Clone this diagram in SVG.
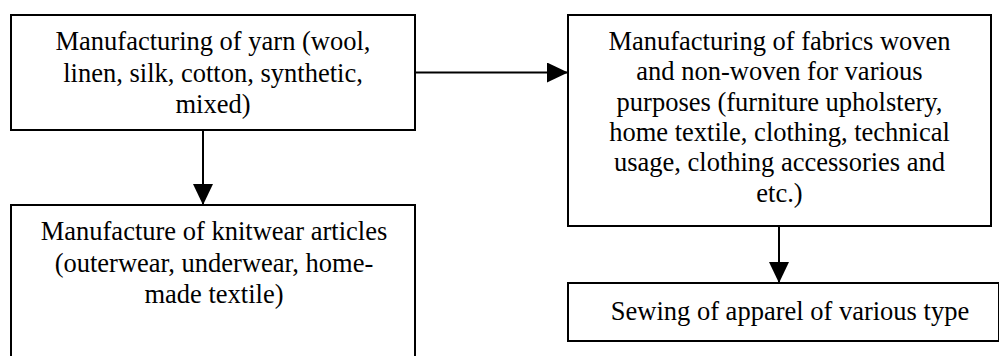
<svg xmlns="http://www.w3.org/2000/svg" width="999" height="356" viewBox="0 0 999 356">
<style>
.box{fill:#fff;stroke:#000;stroke-width:2}
.t{font-family:"Liberation Serif","Times New Roman",serif;font-size:26.5px;fill:#000;text-anchor:middle}
.c{stroke:#000;stroke-width:2;fill:none;marker-end:url(#ah)}
</style>
<defs>
<marker id="ah" markerUnits="userSpaceOnUse" markerWidth="21" markerHeight="20" refX="21" refY="10" orient="auto">
<path d="M0,0 L21,10 L0,20 Z" fill="#000"/>
</marker>
</defs>
<rect width="999" height="356" fill="#fff"/>
<g id="yarn">
<rect class="box" x="11" y="15" width="404" height="115"/>
<text class="t" x="213" y="50">Manufacturing of yarn (wool,</text>
<text class="t" x="213" y="81.5">linen, silk, cotton, synthetic,</text>
<text class="t" x="213" y="113">mixed)</text>
</g>
<g id="fabrics">
<rect class="box" x="568" y="15" width="423" height="211"/>
<text class="t" x="779.5" y="50">Manufacturing of fabrics woven</text>
<text class="t" x="779.5" y="80.3">and non-woven for various</text>
<text class="t" x="779.5" y="110.6">purposes (furniture upholstery,</text>
<text class="t" x="779.5" y="140.9">home textile, clothing, technical</text>
<text class="t" x="779.5" y="171.2">usage, clothing accessories and</text>
<text class="t" x="779.5" y="201.5">etc.)</text>
</g>
<g id="knitwear">
<rect class="box" x="11" y="205" width="404" height="200"/>
<text class="t" x="214" y="240">Manufacture of knitwear articles</text>
<text class="t" x="214" y="271.5">(outerwear, underwear, home-</text>
<text class="t" x="214" y="303">made textile)</text>
</g>
<g id="sewing">
<rect class="box" x="568" y="283" width="431" height="58"/>
<text class="t" x="790" y="320">Sewing of apparel of various type</text>
</g>
<g id="connectors">
<line class="c" x1="415" y1="72.5" x2="568" y2="72.5"/>
<line class="c" x1="203" y1="130" x2="203" y2="205"/>
<line class="c" x1="779" y1="226" x2="779" y2="283"/>
</g>
</svg>
